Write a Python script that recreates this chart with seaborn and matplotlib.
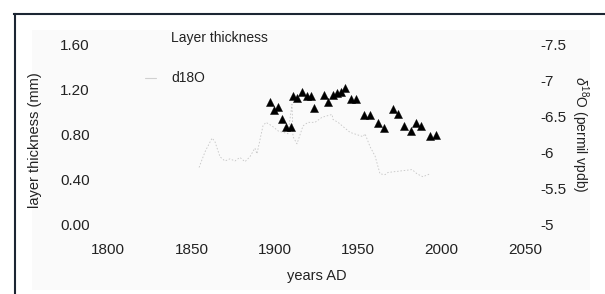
import matplotlib
matplotlib.use("Agg")
import matplotlib.pyplot as plt
from matplotlib.lines import Line2D
from matplotlib.patches import Rectangle
import seaborn as sns
import pandas as pd

# ---- data ----
thick_years = [1897.1, 1899.5, 1901.9, 1904.3, 1906.7, 1909.7, 1910.9, 1913.3,
               1916.3, 1919.3, 1921.7, 1923.5, 1929.5, 1931.9, 1934.9, 1937.3,
               1939.7, 1942.1, 1945.7, 1948.7, 1953.5, 1957.1, 1961.9, 1965.5,
               1970.9, 1973.9, 1977.5, 1981.7, 1984.7, 1987.6, 1993.0, 1996.6]
thickness_mm = [1.09, 1.02, 1.05, 0.94, 0.87, 0.87, 1.14, 1.13,
                1.18, 1.14, 1.14, 1.04, 1.15, 1.09, 1.15, 1.17,
                1.18, 1.22, 1.12, 1.12, 0.97, 0.97, 0.90, 0.86,
                1.03, 0.98, 0.88, 0.83, 0.90, 0.88, 0.79, 0.80]

d18o_years = [1854.6, 1858.2, 1862.4, 1864.1, 1867.1, 1870.1, 1873.1, 1876.1,
              1879.1, 1882.1, 1885.1, 1888.1, 1889.3, 1892.9, 1894.7, 1898.3,
              1902.0, 1907.9, 1910.3, 1910.9, 1913.3, 1916.9, 1919.9, 1924.1,
              1928.3, 1934.3, 1934.9, 1937.9, 1945.1, 1952.9, 1954.1, 1957.1,
              1960.1, 1963.1, 1966.1, 1967.9, 1982.3, 1985.3, 1988.8, 1993.0]
d18o_vals = [-5.79, -6.01, -6.20, -6.15, -5.94, -5.88, -5.91, -5.88,
             -5.93, -5.87, -5.94, -6.06, -5.98, -6.37, -6.42, -6.37,
             -6.30, -6.26, -6.67, -6.22, -6.12, -6.37, -6.42, -6.42,
             -6.49, -6.53, -6.46, -6.42, -6.28, -6.22, -6.26, -6.08,
             -5.95, -5.70, -5.69, -5.72, -5.76, -5.70, -5.66, -5.70]

x_ticks = [1800, 1850, 1900, 1950, 2000, 2050]
left_ticks = [0.0, 0.4, 0.8, 1.2, 1.6]
left_labels = ["0.00", "0.40", "0.80", "1.20", "1.60"]
right_ticks = [-5, -5.5, -6, -6.5, -7, -7.5]
right_labels = ["-5", "-5.5", "-6", "-6.5", "-7", "-7.5"]

df_t = pd.DataFrame({"year": thick_years, "thickness": thickness_mm})
df_d = pd.DataFrame({"year": d18o_years, "d18O": d18o_vals})

sns.set_style("white")
plt.rcParams["font.family"] = ["Liberation Sans", "DejaVu Sans"]
plt.rcParams["mathtext.fontset"] = "custom"
plt.rcParams["mathtext.rm"] = "Liberation Sans"
plt.rcParams["mathtext.it"] = "Liberation Sans:italic"

W, H = 605, 294
fig = plt.figure(figsize=(W / 100, H / 100), dpi=100)
fig.patch.set_facecolor("white")

def fx(px):
    return px / W

def fy(py):
    return 1 - py / H

# light plot panel
fig.patches.append(Rectangle((fx(32), fy(290)), fx(590) - fx(32), fy(30) - fy(290),
                             transform=fig.transFigure, facecolor="#fafafa",
                             edgecolor="none", zorder=-3))
# outer frame (top and left edges; the rest lies outside the picture)
frame_kw = dict(transform=fig.transFigure, color="#1c2633", linewidth=1.5,
                solid_capstyle="projecting", zorder=-2)
fig.lines.append(Line2D([fx(14), 1.0], [fy(13.5), fy(13.5)], **frame_kw))
fig.lines.append(Line2D([fx(14.5), fx(14.5)], [fy(13.5), 0.0], **frame_kw))

ax_l, ax_r, ax_t, ax_b = 108, 525, 45, 224
ax = fig.add_axes([fx(ax_l), fy(ax_b), fx(ax_r) - fx(ax_l), fy(ax_t) - fy(ax_b)])
ax.set_facecolor("none")
ax2 = ax.twinx()
ax2.set_facecolor("none")

sns.lineplot(data=df_d, x="year", y="d18O", ax=ax2, color="#c4c4c4", linewidth=0.6,
             linestyle=(0, (1.8, 2.2)), sort=False, legend=False, zorder=1)
sns.scatterplot(data=df_t, x="year", y="thickness", ax=ax, marker="^", color="black",
                s=34, edgecolor="black", linewidth=0.3, legend=False, zorder=3)

ax2.set_zorder(1)
ax.set_zorder(2)

ax.set_xlim(1800, 2050)
ax.set_ylim(0, 1.6)
ax2.set_ylim(-5.03, -7.5)

for a in (ax, ax2):
    for s in a.spines.values():
        s.set_visible(False)

ax.set_xticks(x_ticks)
ax.set_xticklabels([str(v) for v in x_ticks])
ax.set_yticks(left_ticks)
ax.set_yticklabels(left_labels)
ax2.set_yticks(right_ticks)
ax2.set_yticklabels(right_labels)

ax.tick_params(axis="x", length=0, pad=14, labelsize=11, labelcolor="#222222")
ax.tick_params(axis="y", length=0, pad=13, labelsize=11, labelcolor="#222222")
ax2.tick_params(axis="y", length=0, pad=11, labelsize=11, labelcolor="#222222")

ax.set_xlabel("years AD", fontsize=10.5, color="#222222", labelpad=8)
ax.set_ylabel("layer thickness (mm)", fontsize=10.5, color="#222222")
ax.yaxis.set_label_coords((42 - ax_l) / (ax_r - ax_l), 0.47)
ax2.set_ylabel(r"$\delta^{18}$O (permil vpdb)", fontsize=10, color="#222222", rotation=270,
               va="center")
ax2.yaxis.set_label_coords((580 - ax_l) / (ax_r - ax_l), 0.50)

handles = [Line2D([], [], linestyle="none", marker=None),
           Line2D([], [], color="#d0d0d0", linewidth=0.8)]
leg = fig.legend(handles, ["Layer thickness", "d18O"], loc="upper left",
                 bbox_to_anchor=(fx(145), fy(31)), frameon=False, fontsize=10,
                 handlelength=0.8, handletextpad=1.1, labelspacing=1.9,
                 borderpad=0, borderaxespad=0)
for t in leg.get_texts():
    t.set_color("#222222")

fig.savefig("out.png", dpi=100, facecolor="white")
